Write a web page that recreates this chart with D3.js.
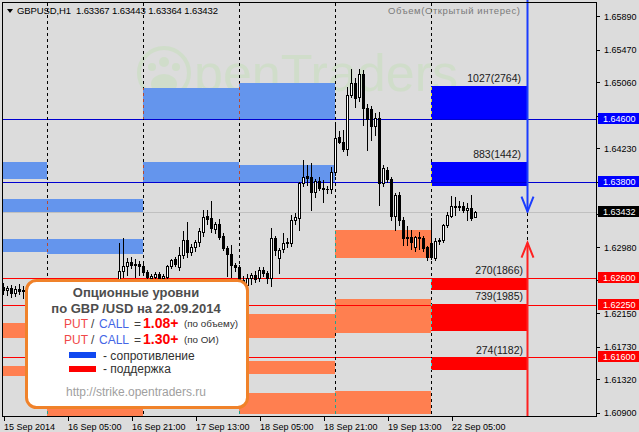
<!DOCTYPE html>
<html><head><meta charset="utf-8">
<script src="https://cdn.jsdelivr.net/npm/d3@7/dist/d3.min.js"></script>
<style>
html,body{margin:0;padding:0;background:#dcdcdc;}
svg{display:block;}
text{font-family:"Liberation Sans",Arial,sans-serif;}
</style></head><body>
<svg id="chart" width="639" height="432"></svg>
<script>
// ---------------- DATA ----------------
const symbolTitle = "GBPUSD,H1  1.63367 1.63443 1.63364 1.63432";
const indicatorTitle = "Объем(Открытый интерес)";
const timeTickIndex = [0, 16, 32, 48, 64, 80, 96, 112];
const timeTickLabels = ["15 Sep 2014", "16 Sep 05:00", "16 Sep 21:00", "17 Sep 13:00",
  "18 Sep 05:00", "18 Sep 21:00", "19 Sep 13:00", "22 Sep 05:00"];
const daySeparators = [11, 35, 59, 83, 107];
const priceTicks = [1.65890, 1.65470, 1.65060, 1.64640, 1.64230, 1.63810, 1.63400,
  1.62980, 1.62570, 1.62150, 1.61730, 1.61320, 1.60900];

const opens = [1.6248,1.6244,1.6247,1.6241,1.6246,1.6243,1.6245,1.6242,1.6247,1.6243,
 1.6238,1.6244,1.6241,1.6236,1.6240,1.6233,1.6225,1.6219,1.6210,1.6214,
 1.6172,1.6186,1.6195,1.6188,1.6209,1.6217,1.6233,1.6241,1.6238,1.6252,
 1.6268,1.6275,1.6280,1.6276,1.6277,1.6275,1.6267,1.6260,1.6261,1.6264,
 1.6260,1.6261,1.6275,1.6283,1.6273,1.6288,1.6307,1.6292,1.6298,1.6305,
 1.6317,1.6337,1.6335,1.6321,1.6328,1.6312,1.6297,1.6290,1.6276,1.6273,
 1.6257,1.6251,1.6259,1.6263,1.6259,1.6270,1.6266,1.6259,1.6310,1.6285,
 1.6296,1.6304,1.6304,1.6333,1.6335,1.6379,1.6388,1.6387,1.6368,1.6382,
 1.6373,1.6372,1.6371,1.6393,1.6437,1.6431,1.6422,1.6490,1.6505,1.6487,
 1.6516,1.6474,1.6472,1.6451,1.6461,1.6379,1.6396,1.6384,1.6338,1.6364,
 1.6333,1.6311,1.6311,1.6298,1.6311,1.6310,1.6298,1.6303,1.6285,1.6306,
 1.6307,1.6326,1.6338,1.6350,1.6349,1.6350,1.6345,1.6348,1.63367];
const highs = [1.6253,1.6250,1.6251,1.6249,1.6252,1.6250,1.6251,1.6250,1.6252,1.6248,
 1.6246,1.6250,1.6247,1.6243,1.6246,1.6239,1.6232,1.6226,1.6218,1.6220,
 1.6190,1.6199,1.6204,1.6213,1.6221,1.6238,1.6247,1.6252,1.6254,1.6304,
 1.6310,1.6285,1.6286,1.6283,1.6281,1.6278,1.6270,1.6265,1.6267,1.6267,
 1.6264,1.6276,1.6284,1.6286,1.6298,1.6319,1.6330,1.6302,1.6308,1.6322,
 1.6345,1.6345,1.6356,1.6330,1.6334,1.6316,1.6300,1.6301,1.6279,1.6276,
 1.6262,1.6264,1.6266,1.6268,1.6273,1.6274,1.6268,1.6323,1.6312,1.6297,
 1.6316,1.6310,1.6339,1.6341,1.6381,1.6408,1.6402,1.6404,1.6384,1.6387,
 1.6383,1.6376,1.6399,1.6456,1.6445,1.6446,1.6500,1.6523,1.6511,1.6523,
 1.6521,1.6478,1.6476,1.6467,1.6468,1.6402,1.6399,1.6387,1.6366,1.6368,
 1.6336,1.6325,1.6320,1.6313,1.6317,1.6312,1.6300,1.6335,1.6310,1.6310,
 1.6328,1.6343,1.6363,1.6362,1.6357,1.6355,1.6354,1.6364,1.63443];
const lows = [1.6240,1.6238,1.6236,1.6237,1.6240,1.6235,1.6238,1.6236,1.6240,1.6235,
 1.6233,1.6238,1.6232,1.6229,1.6231,1.6221,1.6214,1.6205,1.6196,1.6163,
 1.6161,1.6178,1.6183,1.6185,1.6201,1.6212,1.6226,1.6235,1.6232,1.6250,
 1.6261,1.6263,1.6272,1.6261,1.6263,1.6265,1.6258,1.6257,1.6258,1.6257,
 1.6255,1.6258,1.6272,1.6275,1.6270,1.6285,1.6286,1.6288,1.6294,1.6300,
 1.6313,1.6328,1.6317,1.6316,1.6309,1.6295,1.6262,1.6261,1.6268,1.6252,
 1.6247,1.6248,1.6252,1.6254,1.6256,1.6262,1.6253,1.6250,1.6288,1.6266,
 1.6292,1.6298,1.6300,1.6327,1.6320,1.6376,1.6377,1.6345,1.6361,1.6370,
 1.6355,1.6366,1.6367,1.6389,1.6429,1.6420,1.6414,1.6487,1.6475,1.6483,
 1.6452,1.6421,1.6433,1.6440,1.6351,1.6375,1.6380,1.6333,1.6320,1.6326,
 1.6301,1.6301,1.6296,1.6293,1.6296,1.6294,1.6282,1.6283,1.6282,1.6302,
 1.6305,1.6324,1.6336,1.6339,1.6345,1.6343,1.6333,1.6333,1.63364];
const closes = [1.6244,1.6247,1.6241,1.6246,1.6243,1.6245,1.6242,1.6247,1.6243,1.6238,
 1.6244,1.6241,1.6236,1.6240,1.6233,1.6225,1.6219,1.6210,1.6214,1.6172,
 1.6186,1.6195,1.6188,1.6209,1.6217,1.6233,1.6241,1.6238,1.6252,1.6268,
 1.6275,1.6280,1.6276,1.6277,1.6275,1.6267,1.6261,1.6262,1.6265,1.6260,
 1.6262,1.6275,1.6282,1.6277,1.6288,1.6307,1.6292,1.6298,1.6305,1.6319,
 1.6336,1.6334,1.6322,1.6327,1.6311,1.6297,1.6290,1.6276,1.6273,1.6257,
 1.6251,1.6260,1.6263,1.6258,1.6270,1.6266,1.6259,1.6310,1.6295,1.6295,
 1.6304,1.6305,1.6333,1.6336,1.6379,1.6387,1.6386,1.6368,1.6382,1.6373,
 1.6372,1.6371,1.6393,1.6436,1.6431,1.6422,1.6490,1.6505,1.6486,1.6516,
 1.6474,1.6460,1.6451,1.6461,1.6379,1.6398,1.6384,1.6338,1.6364,1.6333,
 1.6310,1.6310,1.6305,1.6311,1.6310,1.6297,1.6286,1.6286,1.6306,1.6307,
 1.6326,1.6339,1.6350,1.6349,1.6350,1.6345,1.6348,1.6335,1.63432];

const resistanceLevels = [1.64600, 1.63800];
const supportLevels = [1.62600, 1.62250, 1.61600];
const lastPrice = 1.63432;

// past option zones: [startBar, endBar, upperPrice, lowerPrice]
const pastCallZones = [[0,11,1.64055,1.63841],[0,35,1.63590,1.63413],[0,11,1.63086,1.62922],
  [11,35,1.63086,1.62897],[35,59,1.64987,1.64597],[59,83,1.65050,1.64597],
  [35,59,1.64055,1.63791],[59,83,1.64018,1.63791]];
const pastPutZones = [[0,11,1.62029,1.61840],[0,11,1.61487,1.61361],[11,35,1.60946,1.60850],
  [59,83,1.62142,1.61840],[59,83,1.61550,1.61387],[59,83,1.61147,1.60880],
  [83,107,1.63199,1.62847],[83,107,1.62331,1.61903],[83,107,1.61172,1.60880]];
// current day zones
const currentStart = 107, currentEnd = 131;
const callZoneUpper = [1.65012, 1.64055];
const callZoneLower = [1.64597, 1.63753];
const callZoneLabels = ["1027(2764)", "883(1442)"];
const putZoneUpper = [1.62595, 1.62268, 1.61588];
const putZoneLower = [1.62444, 1.61928, 1.61437];
const putZoneLabels = ["270(1866)", "739(1985)", "274(1182)"];
// arrows
const arrowBar = 131;
const downArrowTip = 1.63432;
const upArrowTip = 1.63040;

// ---------------- CHART ----------------
const W = 639, H = 432;
const L = 3, R = 596, T = 3, B = 416;
const svg = d3.select("#chart");
svg.append("rect").attr("width", W).attr("height", H).attr("fill", "#dcdcdc");

const x = d3.scaleLinear().domain([0, 148.25]).range([L, R]);
const y = d3.scaleLinear().domain([1.60900, 1.65890]).range([412.7, 16.3]);

const defs = svg.append("defs");
defs.append("clipPath").attr("id", "plot").append("rect")
  .attr("x", L).attr("y", T).attr("width", R - L).attr("height", B - T);

// watermark
const wm = svg.append("g").attr("opacity", 0.4);
const wmc = "#bfe0b0";
wm.append("circle").attr("cx", 164).attr("cy", 73).attr("r", 25).attr("fill", "none")
  .attr("stroke", wmc).attr("stroke-width", 4);
[[152, 67, 4], [164, 62, 5], [176, 67, 4]].forEach(c =>
  wm.append("circle").attr("cx", c[0]).attr("cy", c[1]).attr("r", c[2]).attr("fill", wmc));
wm.append("ellipse").attr("cx", 164).attr("cy", 84).attr("rx", 13).attr("ry", 10).attr("fill", wmc);
wm.append("text").attr("x", 194).attr("y", 91).attr("font-size", 52).attr("fill", wmc)
  .text("penTraders");

const plot = svg.append("g").attr("clip-path", "url(#plot)").attr("shape-rendering", "crispEdges");

const px = i => Math.round(x(i));
const py = p => Math.round(y(p));

function zoneRect(g, z, color) {
  const x0 = px(z[0]), x1 = px(z[1]);
  const y0 = py(z[2]), y1 = py(z[3]);
  g.append("rect").attr("x", x0).attr("y", y0).attr("width", x1 - x0).attr("height", y1 - y0)
    .attr("fill", color);
  return {x0, x1, y0, y1, color};
}
const zoneBoxes = [];
pastCallZones.forEach(z => zoneBoxes.push(zoneRect(plot, z, "#6495ed")));
pastPutZones.forEach(z => zoneBoxes.push(zoneRect(plot, z, "#ff7f50")));
callZoneUpper.forEach((u, k) => zoneBoxes.push(zoneRect(plot, [currentStart, currentEnd, u, callZoneLower[k]], "#0000ff")));
putZoneUpper.forEach((u, k) => zoneBoxes.push(zoneRect(plot, [currentStart, currentEnd, u, putZoneLower[k]], "#ff0000")));

// level lines
resistanceLevels.forEach(l => plot.append("line").attr("x1", L).attr("x2", R)
  .attr("y1", py(l) + 0.5).attr("y2", py(l) + 0.5).attr("stroke", "#0000d0"));
supportLevels.forEach(l => plot.append("line").attr("x1", L).attr("x2", R)
  .attr("y1", py(l) + 0.5).attr("y2", py(l) + 0.5).attr("stroke", "#ff0000"));
plot.append("line").attr("x1", L).attr("x2", R)
  .attr("y1", py(lastPrice) + 0.5).attr("y2", py(lastPrice) + 0.5).attr("stroke", "#c0c0c0");

// day separators (XOR-like look over zones)
function xorColor(c) {
  const r = d3.rgb(c);
  return d3.rgb(r.r ^ 220, r.g ^ 220, r.b ^ 220).toString();
}
daySeparators.forEach(d => {
  const sx = px(d);
  plot.append("line").attr("x1", sx + 0.5).attr("x2", sx + 0.5).attr("y1", T).attr("y2", B)
    .attr("stroke", "#000").attr("stroke-dasharray", "3,3");
  zoneBoxes.forEach(zb => {
    if (sx >= zb.x0 && sx < zb.x1) {
      plot.append("line").attr("x1", sx + 0.5).attr("x2", sx + 0.5).attr("y1", zb.y0).attr("y2", zb.y1)
        .attr("stroke", xorColor(zb.color)).attr("stroke-dasharray", "3,3")
        .attr("stroke-dashoffset", (zb.y0 - T) % 6);
    }
  });
});

// candles
const cg = plot.append("g");
opens.forEach((o, i) => {
  const c = closes[i], h = highs[i], l = lows[i];
  const cx = px(i);
  const yh = py(h), yl = py(l);
  cg.append("rect").attr("x", cx).attr("y", yh).attr("width", 1).attr("height", yl - yh + 1).attr("fill", "#000");
  const top = py(Math.max(o, c)), bot = py(Math.min(o, c));
  cg.append("rect").attr("x", cx - 1).attr("y", top).attr("width", 3)
    .attr("height", Math.max(1, bot - top + 1)).attr("fill", "#000");
  if (c > o && bot - top >= 2) {
    cg.append("rect").attr("x", cx).attr("y", top + 1).attr("width", 1)
      .attr("height", bot - top - 1).attr("fill", "#fff");
  }
});

// zone labels
const lg = svg.append("g").attr("font-size", 10.5).attr("fill", "#1a1a1a").attr("text-anchor", "end");
callZoneLabels.forEach((t, k) => lg.append("text").attr("x", px(currentEnd) - 6)
  .attr("y", py(callZoneUpper[k]) - 4).text(t));
putZoneLabels.forEach((t, k) => lg.append("text").attr("x", px(currentEnd) - 4)
  .attr("y", py(putZoneUpper[k]) - 4).text(t));

// arrows
const ax = px(arrowBar) + 0.5;
const ag = svg.append("g").attr("fill", "none").attr("stroke-width", 2);
ag.append("line").attr("x1", ax).attr("x2", ax).attr("y1", 0).attr("y2", y(downArrowTip)).attr("stroke", "#1a3cff");
ag.append("path").attr("d", `M${ax - 6},${y(downArrowTip) - 15}L${ax},${y(downArrowTip)}L${ax + 6},${y(downArrowTip) - 15}`)
  .attr("stroke", "#1a3cff");
ag.append("line").attr("x1", ax).attr("x2", ax).attr("y1", B).attr("y2", y(upArrowTip)).attr("stroke", "#ff2020");
ag.append("path").attr("d", `M${ax - 6},${y(upArrowTip) + 15}L${ax},${y(upArrowTip)}L${ax + 6},${y(upArrowTip) + 15}`)
  .attr("stroke", "#ff2020");
svg.append("line").attr("x1", ax).attr("x2", ax).attr("y1", y(downArrowTip) + 1).attr("y2", y(upArrowTip) - 1)
  .attr("stroke", "#000").attr("stroke-dasharray", "3,3").attr("shape-rendering", "crispEdges");

// frame
svg.append("path").attr("d", `M2.5,2.5H${R + 0.5}V${B + 0.5}H2.5Z`).attr("fill", "none")
  .attr("stroke", "#000").attr("shape-rendering", "crispEdges");

// axes
const tagPrices = resistanceLevels.concat([lastPrice], supportLevels);
const covered = v => tagPrices.some(p => Math.abs(y(p) - y(v)) < 7);
const yAxis = d3.axisRight(y).tickValues(priceTicks)
  .tickFormat(v => covered(v) ? "" : d3.format(".5f")(v)).tickSize(3).tickPadding(4);
const yg = svg.append("g").attr("transform", `translate(${R + 1},0)`).call(yAxis);
yg.select(".domain").remove();
yg.selectAll("line").attr("stroke", "#000").attr("shape-rendering", "crispEdges");
yg.selectAll("text").attr("font-size", 9).attr("fill", "#000").attr("font-family", "Liberation Sans, Arial, sans-serif");

const xAxis = d3.axisBottom(x).tickValues(timeTickIndex).tickFormat((d, i) => timeTickLabels[i]).tickSize(4).tickPadding(3);
const xg = svg.append("g").attr("transform", `translate(0.5,${B + 1})`).call(xAxis);
xg.select(".domain").remove();
xg.selectAll("line").attr("stroke", "#000").attr("shape-rendering", "crispEdges");
xg.selectAll("text").attr("font-size", 9).attr("fill", "#000").attr("text-anchor", "start").attr("x", 0)
  .attr("font-family", "Liberation Sans, Arial, sans-serif");

// price labels on axis
function priceTag(p, bg) {
  const yy = y(p);
  svg.append("rect").attr("x", R + 2).attr("y", Math.round(yy) - 6).attr("width", W - R - 2).attr("height", 11).attr("fill", bg);
  svg.append("text").attr("x", R + 7).attr("y", Math.round(yy) - 0.5).attr("dy", "0.34em").attr("font-size", 9)
    .attr("fill", "#fff").text(d3.format(".5f")(p));
}
resistanceLevels.forEach(l => priceTag(l, "#0000ff"));
priceTag(lastPrice, "#000000");
supportLevels.forEach(l => priceTag(l, "#ff0000"));

// titles
svg.append("path").attr("d", "M7,9L13,9L10,13Z").attr("fill", "#000");
svg.append("text").attr("x", 17).attr("y", 14).attr("font-size", 9.5).attr("fill", "#000")
  .style("white-space", "pre").attr("textLength", 201).attr("lengthAdjust", "spacing").text(symbolTitle);
svg.append("text").attr("x", 388).attr("y", 14).attr("font-size", 9.5).attr("fill", "#7a7a7a")
  .attr("textLength", 132).attr("lengthAdjust", "spacing").text(indicatorTitle);

// info box
const box = svg.append("g");
box.append("rect").attr("x", 26.5).attr("y", 280.5).attr("width", 221).attr("height", 127).attr("rx", 10)
  .attr("fill", "#fff").attr("stroke", "#f0822a").attr("stroke-width", 3);
const bx = 136;
box.append("text").attr("x", bx).attr("y", 297).attr("text-anchor", "middle").attr("font-size", 13)
  .attr("font-weight", "bold").attr("fill", "#4d4d4d").text("Опционные уровни");
box.append("text").attr("x", bx).attr("y", 313).attr("text-anchor", "middle").attr("font-size", 13)
  .attr("font-weight", "bold").attr("fill", "#4d4d4d").text("по GBP /USD на 22.09.2014");
function ratioRow(yb, val, note) {
  const t = box.append("text").attr("y", yb).attr("font-size", 12);
  t.append("tspan").attr("x", 64).attr("fill", "#f04848").text("PUT");
  t.append("tspan").attr("x", 91).attr("fill", "#404040").text("/");
  t.append("tspan").attr("x", 99).attr("fill", "#4466e6").text("CALL");
  t.append("tspan").attr("x", 134).attr("fill", "#404040").text("=");
  t.append("tspan").attr("x", 143).attr("fill", "#ff0000").attr("font-weight", "bold").attr("font-size", 14).text(val);
  t.append("tspan").attr("x", 184).attr("dy", -1).attr("fill", "#303030").attr("font-size", 9.8).text(note);
}
ratioRow(328, "1.08+", "(по объему)");
ratioRow(344, "1.30+", "(по ОИ)");
box.append("rect").attr("x", 69).attr("y", 352).attr("width", 27).attr("height", 6).attr("fill", "#1048f0");
box.append("text").attr("x", 103).attr("y", 359.5).attr("font-size", 12).attr("fill", "#303030").text("- сопротивление");
box.append("rect").attr("x", 69).attr("y", 366).attr("width", 27).attr("height", 6).attr("fill", "#ff0000");
box.append("text").attr("x", 103).attr("y", 373).attr("font-size", 12).attr("fill", "#303030").text("- поддержка");
box.append("text").attr("x", bx).attr("y", 395.5).attr("text-anchor", "middle").attr("font-size", 12)
  .attr("fill", "#a0a0a0").text("http://strike.opentraders.ru");
</script>
</body></html>
